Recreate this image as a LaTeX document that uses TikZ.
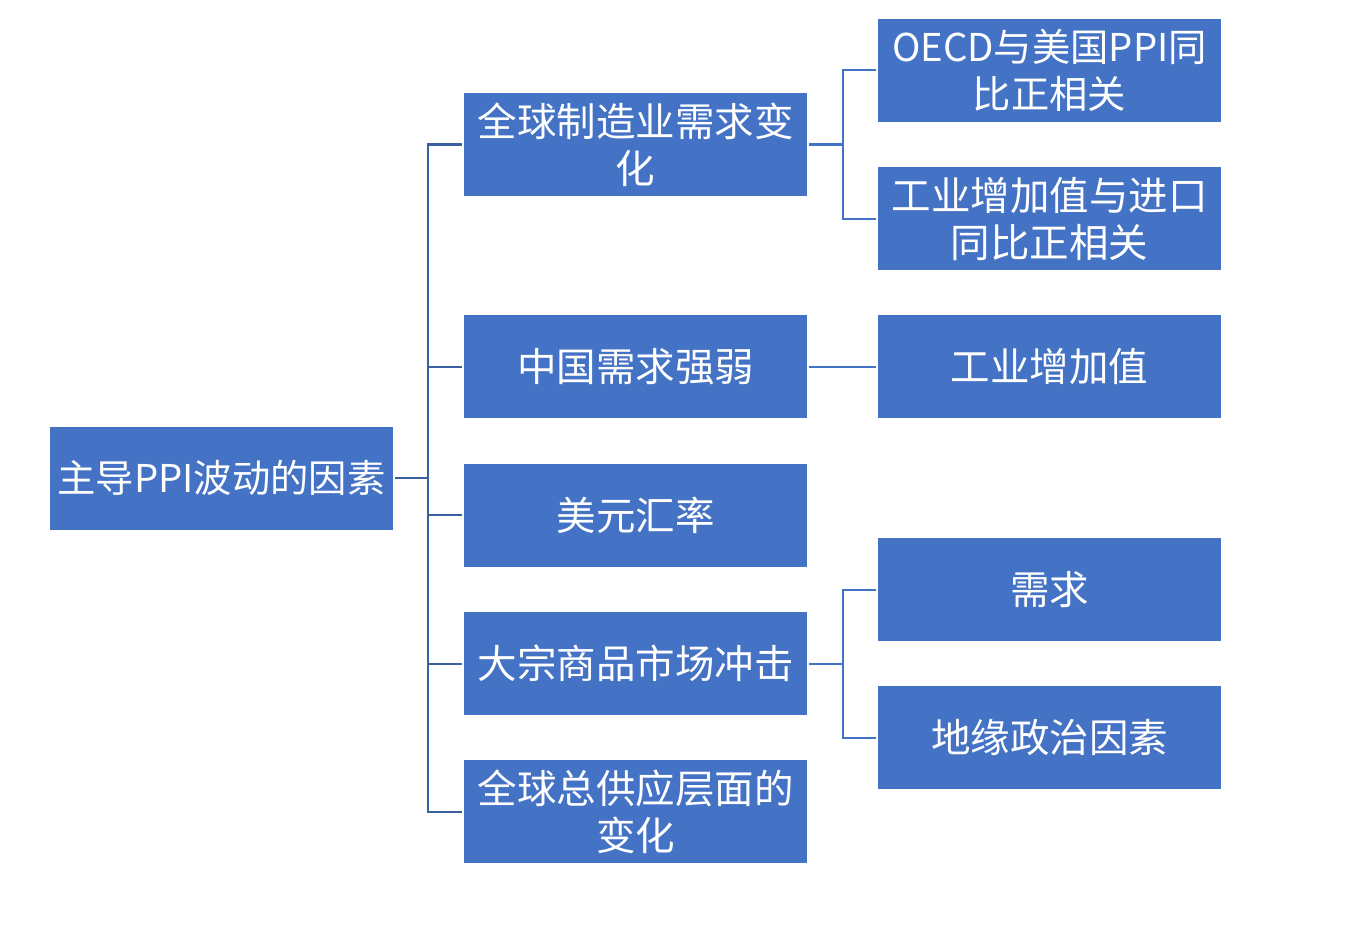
\documentclass[tikz,border=0pt]{standalone}
\usepackage{fontspec}
\setmainfont{Noto Sans CJK SC}
\definecolor{boxblue}{HTML}{4472C4}
\definecolor{lineone}{HTML}{3A5FA0}
\definecolor{linetwo}{HTML}{4472C4}
\begin{document}
\begin{tikzpicture}[x=1pt,y=-1pt,
  box/.style={fill=boxblue,draw=none,minimum width=343pt,minimum height=103pt,inner sep=0pt,
    text=white,font=\fontsize{39.5}{47}\selectfont,align=center},
  latinbox/.style={box,font=\fontsize{38.3}{47}\selectfont},
  lone/.style={draw=lineone,line width=2pt,line cap=rect},
  ltwo/.style={draw=linetwo,line width=2pt,line cap=rect}]
\path[use as bounding box] (0,0) rectangle (1354,939);
\fill[white] (0,0) rectangle (1354,939);
\node[latinbox] (root) at (221.5,478) {\raisebox{2pt}{主导PPI波动的因素}};
\node[box] (A) at (635.5,144.5) {\raisebox{2pt}{全球制造业需求变}\\\raisebox{2pt}{化}};
\node[box] (B) at (635.5,366.5) {\raisebox{2pt}{中国需求强弱}};
\node[box] (C) at (635.5,515) {\raisebox{2pt}{美元汇率}};
\node[box] (D) at (635.5,663.5) {\raisebox{2pt}{大宗商品市场冲击}};
\node[box] (E) at (635.5,811.5) {全球总供应层面的\\变化};
\node[latinbox] (A1) at (1049.5,70.5) {OECD与美国PPI同\\比正相关};
\node[box] (A2) at (1049.5,218.5) {工业增加值与进口\\同比正相关};
\node[box] (B1) at (1049.5,366.5) {\raisebox{2pt}{工业增加值}};
\node[box] (D1) at (1049.5,589.5) {\raisebox{2pt}{需求}};
\node[box] (D2) at (1049.5,737.5) {\raisebox{2pt}{地缘政治因素}};
\coordinate (bus) at (428,478);
\coordinate (busA) at (843,144.5);
\coordinate (busD) at (843,663.5);
\draw[lone,shorten <=3pt] (root.east) -- (bus);
\foreach \n in {A,B,C,D,E}{
  \draw[lone,shorten <=3pt] (\n.west) -| (bus);
}
\draw[ltwo,shorten <=3pt] (A.east) -- (busA);
\draw[ltwo,shorten <=3pt] (A1.west) -| (busA);
\draw[ltwo,shorten <=3pt] (A2.west) -| (busA);
\draw[ltwo,shorten <=3pt,shorten >=3pt] (B.east) -- (B1.west);
\draw[ltwo,shorten <=3pt] (D.east) -- (busD);
\draw[ltwo,shorten <=3pt] (D1.west) -| (busD);
\draw[ltwo,shorten <=3pt] (D2.west) -| (busD);
\end{tikzpicture}
\end{document}
